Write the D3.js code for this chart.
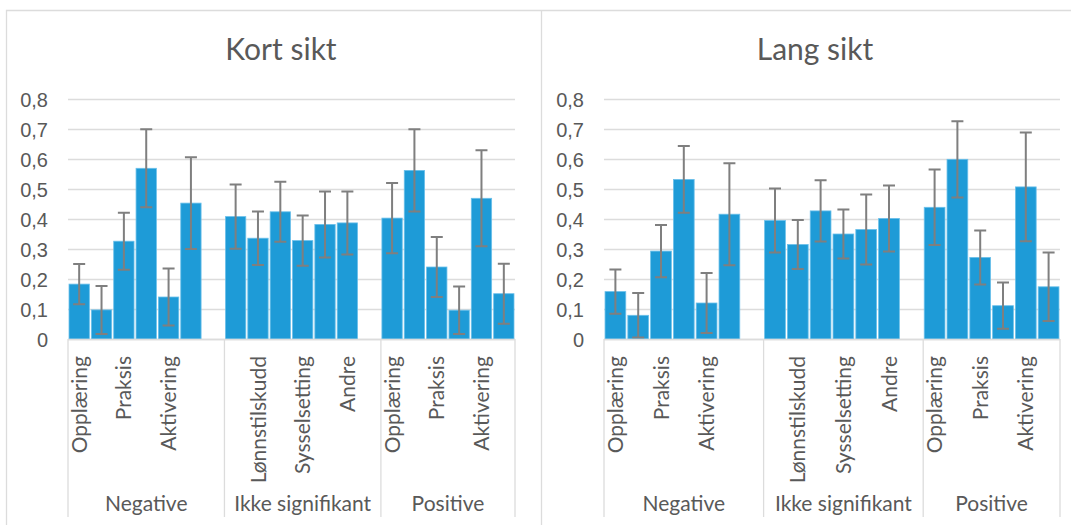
<!DOCTYPE html>
<html>
<head>
<meta charset="utf-8">
<script src="https://cdn.jsdelivr.net/npm/d3@7"></script>
<style>
  html, body { margin: 0; padding: 0; background: #fff; }
  svg { display: block; font-family: Lato, "Open Sans", sans-serif; }
</style>
</head>
<body>
<svg id="chart" width="1071" height="525"></svg>
<script>
// Programme types (every other label is printed on the axis) and result groups
const categories = ["Opplæring", "Lønnstilskudd", "Praksis", "Sysselsetting", "Aktivering", "Andre"];
const groups = ["Negative", "Ikke signifikant", "Positive"];
const yTicks = [0, 0.1, 0.2, 0.3, 0.4, 0.5, 0.6, 0.7, 0.8];

// Kort sikt: estimates and half-width of the confidence interval
const kortNegative      = [0.183, 0.097, 0.326, 0.569, 0.140, 0.453];
const kortNegativeErr   = [0.067, 0.080, 0.095, 0.130, 0.095, 0.153];
const kortIkke          = [0.408, 0.336, 0.424, 0.328, 0.382, 0.387];
const kortIkkeErr       = [0.107, 0.089, 0.100, 0.084, 0.110, 0.105];
const kortPositive      = [0.403, 0.562, 0.240, 0.096, 0.469, 0.151];
const kortPositiveErr   = [0.117, 0.137, 0.100, 0.079, 0.160, 0.100];

// Lang sikt
const langNegative      = [0.158, 0.079, 0.293, 0.532, 0.120, 0.416];
const langNegativeErr   = [0.074, 0.074, 0.087, 0.111, 0.100, 0.170];
const langIkke          = [0.395, 0.315, 0.427, 0.350, 0.365, 0.402];
const langIkkeErr       = [0.107, 0.082, 0.102, 0.082, 0.117, 0.110];
const langPositive      = [0.439, 0.599, 0.272, 0.111, 0.507, 0.174];
const langPositiveErr   = [0.126, 0.127, 0.090, 0.077, 0.181, 0.114];

const panels = [
  { title: "Kort sikt", titleX: 281, x0: 68, x1: 515,
    values: [kortNegative, kortIkke, kortPositive],
    errors: [kortNegativeErr, kortIkkeErr, kortPositiveErr] },
  { title: "Lang sikt", titleX: 815, x0: 604, x1: 1060,
    values: [langNegative, langIkke, langPositive],
    errors: [langNegativeErr, langIkkeErr, langPositiveErr] }
];

const COLORS = { bar: "#1E9BD7", barEdge: "#6CC0EA", err: "#7F7F7F", grid: "#DCDCDC", text: "#595959", frame: "#DCDCDC" };
const TOP = 99, BASE = 339, DIV_BOTTOM = 517;

const svg = d3.select("#chart");
const nf = d3.formatLocale({ decimal: ",", thousands: " ", grouping: [3], currency: ["", " kr"] }).format(".1~f");

// chart frames
svg.append("path")
  .attr("d", "M6.5,525 V10.5 H1071 M541.5,10.5 V525")
  .attr("fill", "none").attr("stroke", COLORS.frame).attr("stroke-width", 1.3);

panels.forEach(p => {
  const g = svg.append("g");

  // slots: six programmes per group, with an empty spacer between groups
  const slots = [];
  groups.forEach((grp, gi) => {
    categories.forEach((c, ci) => slots.push({ key: grp + "|" + c, group: gi, cat: ci }));
    if (gi < groups.length - 1) slots.push({ key: grp + "|spacer", group: gi, cat: -1 });
  });
  slots.forEach((s, i) => s.index = i);

  const x = d3.scaleBand().domain(slots.map(s => s.key)).range([p.x0, p.x1])
    .paddingInner(0.09).paddingOuter(0.045);
  const y = d3.scaleLinear().domain([0, 0.8]).range([BASE, TOP]);
  const step = x.step();
  const slotLeft = key => x(key) - step * 0.045;

  // title
  g.append("text").attr("x", p.titleX).attr("y", 60)
    .attr("text-anchor", "middle").attr("fill", COLORS.text)
    .style("font-size", "30px").text(p.title);

  // gridlines
  const grid = g.append("g").attr("transform", `translate(${p.x0},0)`)
    .call(d3.axisLeft(y).tickValues(yTicks).tickSize(-(p.x1 - p.x0)).tickFormat(""));
  grid.select(".domain").remove();
  grid.selectAll("line").attr("stroke", COLORS.grid).attr("stroke-width", 1.3);

  // value axis labels
  const ya = g.append("g").attr("transform", `translate(${p.x0},0)`)
    .call(d3.axisLeft(y).tickValues(yTicks).tickSize(0).tickPadding(20).tickFormat(nf));
  ya.select(".domain").remove();
  ya.selectAll("text").attr("fill", COLORS.text).style("font-size", "20px").attr("dy", "0.36em");

  // bars and error bars
  const data = slots.filter(s => s.cat >= 0).map(s => ({
    key: s.key, v: p.values[s.group][s.cat], e: p.errors[s.group][s.cat]
  }));

  g.append("g").selectAll("rect").data(data).join("rect")
    .attr("x", d => x(d.key)).attr("width", x.bandwidth())
    .attr("y", d => y(d.v)).attr("height", d => y(0) - y(d.v))
    .attr("fill", COLORS.bar).attr("stroke", COLORS.barEdge).attr("stroke-width", 0.8);

  const eb = g.append("g").attr("stroke", COLORS.err).attr("stroke-width", 2).attr("fill", "none");
  eb.selectAll("path").data(data).join("path")
    .attr("d", d => {
      const cx = x(d.key) + x.bandwidth() / 2;
      const hi = y(d.v + d.e), lo = y(Math.max(0, d.v - d.e));
      return `M${cx},${hi}V${lo}M${cx - 6},${hi}H${cx + 6}M${cx - 6},${lo}H${cx + 6}`;
    });

  // category axis line
  g.append("line").attr("x1", p.x0).attr("x2", p.x1).attr("y1", BASE + 0.5).attr("y2", BASE + 0.5)
    .attr("stroke", COLORS.grid).attr("stroke-width", 1.3);

  // group boundaries
  const bounds = groups.map((grp, gi) => {
    const first = slots.find(s => s.group === gi);
    return slotLeft(first.key);
  });
  bounds.push(p.x1);
  g.append("g").selectAll("line").data(bounds).join("line")
    .attr("x1", d => d).attr("x2", d => d).attr("y1", BASE).attr("y2", DIV_BOTTOM)
    .attr("stroke", COLORS.grid).attr("stroke-width", 1.3);

  // programme labels, every other slot
  g.append("g").selectAll("text").data(slots.filter(s => s.index % 2 === 0 && s.cat >= 0)).join("text")
    .attr("transform", d => `translate(${x(d.key) + x.bandwidth() / 2},356) rotate(-90)`)
    .attr("text-anchor", "end").attr("dy", "0.36em")
    .attr("fill", COLORS.text).style("font-size", "21px")
    .text(d => categories[d.cat]);

  // group labels
  g.append("g").selectAll("text").data(groups).join("text")
    .attr("x", (d, i) => (bounds[i] + (i < groups.length - 1 ? slotLeft(slots.find(s => s.group === i + 1).key) : p.x1)) / 2)
    .attr("y", 511)
    .attr("text-anchor", "middle").attr("fill", COLORS.text).style("font-size", "21px")
    .text(d => d);
});
</script>
</body>
</html>
